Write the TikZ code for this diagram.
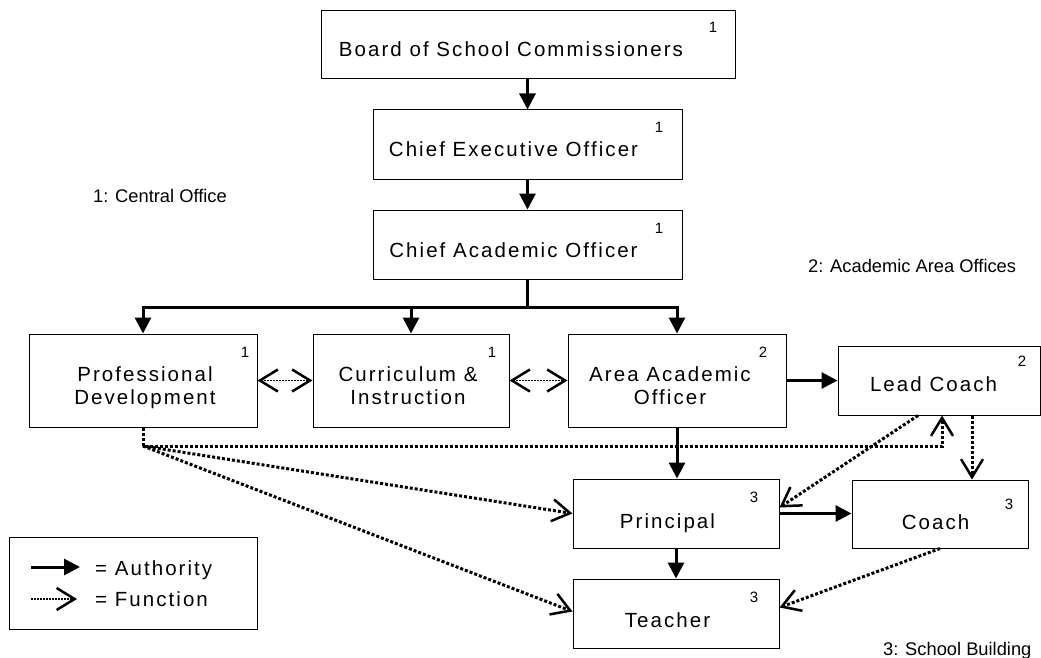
\documentclass[tikz,border=0pt]{standalone}
\usepackage{fontspec}
\setmainfont{Liberation Sans}
\newfontfamily\boxfont[LetterSpace=10]{Liberation Sans}
\usetikzlibrary{arrows.meta}

\tikzset{
  unit/.style={draw, line width=1pt, inner sep=0pt},
  boxtext/.style={font=\boxfont\fontsize{20.5}{23}\selectfont, align=center, inner sep=0pt},
  tier/.style={font=\fontsize{15}{18}\selectfont, inner sep=0pt},
  note/.style={font=\fontsize{18.3}{22}\selectfont, inner sep=0pt},
  authline/.style={line width=3pt},
  auth/.style={authline, -{Triangle[length=16pt,width=16pt]}},
  dots/.style={line width=3pt, dash pattern=on 3pt off 2pt},
  finedots/.style={line width=1.6pt, dash pattern=on 1.6pt off 1.4pt},
  func/.style={dots, ->},
  funcpair/.style={finedots, <->},
  >={Straight Barb[length=18pt,width=22pt,line width=2.5pt]}
}

\begin{document}
\begin{tikzpicture}[x=1pt,y=-1pt]
  \useasboundingbox (0,0) rectangle (1041,658);

  % boxes
  \node[unit, minimum width=414pt, minimum height=68pt] (board) at (528,45) {};
  \node[unit, minimum width=309pt, minimum height=69pt] (ceo) at (527.5,144.5) {};
  \node[unit, minimum width=309pt, minimum height=69pt] (cao) at (527.5,244.5) {};
  \node[unit, minimum width=228pt, minimum height=93pt] (pd) at (143,380.5) {};
  \node[unit, minimum width=196pt, minimum height=93pt] (ci) at (411,380.5) {};
  \node[unit, minimum width=218pt, minimum height=93pt] (aao) at (677,380.5) {};
  \node[unit, minimum width=202pt, minimum height=69pt] (lc) at (939,380.5) {};
  \node[unit, minimum width=206pt, minimum height=69pt] (principal) at (676,513.5) {};
  \node[unit, minimum width=176pt, minimum height=68pt] (coach) at (940,514) {};
  \node[unit, minimum width=206pt, minimum height=69pt] (teacher) at (676,613.5) {};
  \node[unit, minimum width=248pt, minimum height=92pt] (legend) at (133,583) {};

  % titles
  \node[boxtext, anchor=base] (boardtxt) at (511,57) {Board of School Commissioners};
  \node[boxtext, anchor=base] (ceotxt) at (513.5,157) {Chief Executive Officer};
  \node[boxtext, anchor=base] (caotxt) at (513.5,257) {Chief Academic Officer};
  \node[boxtext] (pdtxt) at (145,388) {Professional\\Development};
  \node[boxtext] (citxt) at (408,386) {Curriculum \&\\Instruction};
  \node[boxtext] (aaotxt) at (670,386) {Area Academic\\Officer};
  \node[boxtext, anchor=base] (lctxt) at (933.5,391) {Lead Coach};
  \node[boxtext, anchor=base] (principaltxt) at (667.5,528) {Principal};
  \node[boxtext, anchor=base] (coachtxt) at (935.5,529) {Coach};
  \node[boxtext, anchor=base] (teachertxt) at (667.5,627) {Teacher};

  % levels
  \node[tier] (boardnum) at (713,27) {1};
  \node[tier] (ceonum) at (659,127) {1};
  \node[tier] (caonum) at (659,228) {1};
  \node[tier] (pdnum) at (245,352) {1};
  \node[tier] (cinum) at (492,352) {1};
  \node[tier] (aaonum) at (763,352) {2};
  \node[tier] (lcnum) at (1022,361) {2};
  \node[tier] (principalnum) at (754,497) {3};
  \node[tier] (coachnum) at (1009,504) {3};
  \node[tier] (teachernum) at (754,597) {3};

  \node[note, anchor=base west] (central) at (93,202) {1: Central Office};
  \node[note, anchor=base west] (area) at (808,272) {2: Academic Area Offices};
  \node[note, anchor=base west] (school) at (883,655) {3: School Building};

  % authority
  \coordinate (bus) at (527.5,307);
  \draw[auth] (board.south -| ceo.north) -- (ceo.north);
  \draw[auth] (ceo.south) -- (cao.north);
  \draw[authline] (cao.south) -- (bus);
  \draw[auth] (bus) -| (pd.north);
  \draw[auth] (bus) -| (ci.north);
  \draw[auth] (bus) -| (aao.north);
  \draw[auth] (aao.east) -- (lc.west);
  \draw[auth] (aao.south) -- (aao.south |- principal.north);
  \draw[auth] (principal.east) -- (coach.west |- principal.east);
  \draw[auth] (principal.south) -- (teacher.north);

  % function
  \coordinate (fork) at (143,446);
  \draw[funcpair] (pd.east) -- (ci.west);
  \draw[funcpair] (ci.east) -- (aao.west);
  \draw[func] (pd.south) -- (fork) -| ([xshift=3pt]lc.south);
  \draw[func] (fork) -- (principal.west);
  \draw[func] (fork) -- ([yshift=2pt]teacher.west);
  \draw[func] ([xshift=-21pt]lc.south) -- ([yshift=6pt]principal.east);
  \draw[func] ([xshift=33pt]lc.south) -- ([xshift=33pt]lc.south |- coach.north);
  \draw[func] (coach.south) -- ([yshift=6pt]teacher.east);

  % key
  \coordinate (authfrom) at (31,567);
  \coordinate (authto) at (80,567);
  \coordinate (funcfrom) at (31,599);
  \coordinate (functo) at (77,599);
  \draw[auth] (authfrom) -- (authto);
  \draw[finedots, ->] (funcfrom) -- (functo);
  \node[boxtext, anchor=base west] (authkey) at (95,575) {= Authority};
  \node[boxtext, anchor=base west] (funckey) at (95,606) {= Function};
\end{tikzpicture}
\end{document}
